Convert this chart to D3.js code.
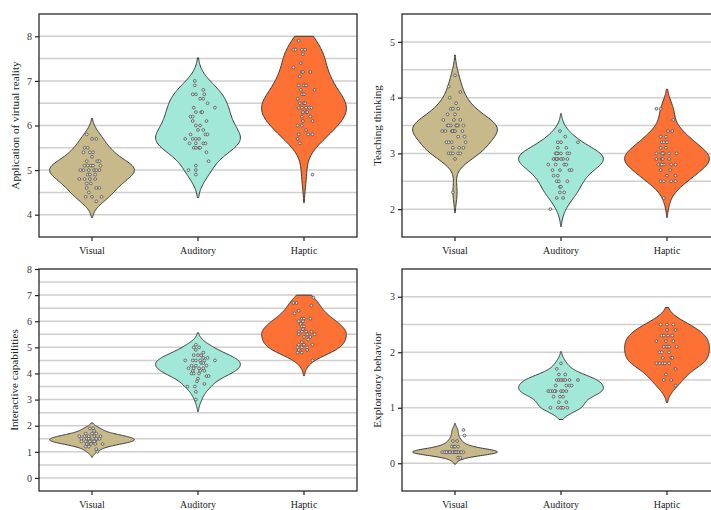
<!DOCTYPE html>
<html><head><meta charset="utf-8">
<script src="https://cdn.jsdelivr.net/npm/d3@7"></script>
<style>body{margin:0;background:#fff;overflow:hidden}svg{display:block}</style>
</head><body>
<script>
// ---------- DATA ----------
const categories = ["Visual", "Auditory", "Haptic"];
const yLabels = ["Application of virtual reality", "Teaching thinking", "Interactive capabilities", "Exploratory behavior"];
const yDomains = [[3.5, 8.5], [1.5, 5.5], [-0.5, 8], [-0.5, 3.5]];
const yTicks = [[4, 5, 6, 7, 8], [2, 3, 4, 5], [0, 1, 2, 3, 4, 5, 6, 7, 8], [0, 1, 2, 3]];
const violinCap = [8, null, 7, null];
const colors = ["#c8b98a", "#a2e8d8", "#fd7135"];

// points: [value, jitter (% of category width)]
const visual1 = [[5.8,-5],[5.7,0],[5.7,4],[5.5,-7],[5.5,-4],[5.4,-8],[5.4,-2],[5.4,1],[5.3,0],[5.2,-5],[5.2,5],[5.2,7],
 [5.1,-7],[5.1,-4],[5.1,-1],[5.1,1],[5.1,8],[5.0,-11],[5.0,-8],[5.0,-3],[5.0,2],[5.0,4],[5.0,7],[4.9,-4],[4.9,-2],[4.9,3],
 [4.8,-12],[4.8,-7],[4.8,-2],[4.8,3],[4.7,-5],[4.7,-1],[4.6,-5],[4.6,4],[4.6,7],[4.5,-3],[4.4,-6],[4.4,0],[4.4,9],[4.3,4]];
const auditory1 = [[7.0,-3],[6.9,-3],[6.8,5],[6.7,-5],[6.7,-2],[6.7,6],[6.6,2],[6.6,5],[6.5,9],[6.4,-4],[6.4,16],
 [6.3,-2],[6.3,3],[6.3,4],[6.2,-7],[6.2,-5],[6.1,-5],[6.1,8],[6.0,-2],[6.0,2],[5.9,0],[5.9,5],[5.8,-7],[5.8,7],[5.8,9],
 [5.7,-12],[5.7,-5],[5.7,-2],[5.7,1],[5.6,-8],[5.6,-2],[5.6,5],[5.6,7],[5.5,-4],[5.5,-2],[5.5,1],[5.5,2],[5.4,8],[5.2,10],
 [5.1,-2],[5.0,-9],[5.0,-2],[4.9,-2]];
const haptic1 = [[7.9,-5],[7.7,-10],[7.7,-8],[7.7,-2],[7.7,1],[7.6,-1],[7.4,-3],[7.3,-10],[7.2,-2],[7.2,-1],[7.2,6],[7.1,-4],
 [6.9,-5],[6.9,0],[6.9,2],[6.8,-3],[6.8,10],[6.7,-2],[6.7,0],[6.6,-6],[6.5,-4],[6.5,0],[6.5,1],[6.4,-5],[6.4,-2],[6.4,2],
 [6.4,5],[6.4,7],[6.3,-1],[6.3,2],[6.3,3],[6.2,-2],[6.2,6],[6.1,-1],[6.1,8],[6.0,-6],[6.0,-2],[5.9,2],[5.8,-5],[5.8,4],
 [5.8,8],[5.7,-6],[5.6,-4],[4.9,8]];
const visual2 = [[4.4,0],[4.2,-6],[4.1,5],[4.0,-5],[3.9,1],[3.8,-4],[3.8,-2],[3.8,3],[3.7,-7],[3.7,0],[3.6,-11],[3.6,-1],[3.6,5],
 [3.5,-7],[3.5,-4],[3.5,1],[3.5,3],[3.5,8],[3.4,-12],[3.4,-9],[3.4,-3],[3.4,-1],[3.4,7],[3.3,3],[3.3,9],[3.2,-8],[3.2,-6],
 [3.2,-3],[3.2,10],[3.1,-2],[3.1,4],[3.1,8],[3.0,-6],[3.0,-4],[3.0,-2],[3.0,3],[3.0,5],[2.9,0],[2.3,-2],
 [3.5,-6],[3.4,-2],[3.4,0],[3.5,2]];
const auditory2 = [[3.4,-1],[3.3,4],[3.2,-3],[3.2,0],[3.2,16],[3.1,-3],[3.1,5],[3.0,-5],[3.0,-3],[3.0,0],[3.0,6],[3.0,8],
 [2.9,-7],[2.9,-5],[2.9,-3],[2.9,2],[2.9,6],[2.8,-12],[2.8,-5],[2.8,3],[2.8,5],[2.7,-8],[2.7,-1],[2.7,8],[2.7,10],[2.6,-7],
 [2.6,-3],[2.5,-4],[2.5,-2],[2.5,6],[2.4,-1],[2.4,0],[2.3,-1],[2.3,3],[2.2,-4],[2.2,2],[2.0,-10],
 [2.9,-4],[2.9,0],[3.0,-4]];
const haptic2 = [[3.8,-10],[3.8,-6],[3.6,6],[3.4,1],[3.4,5],[3.3,-6],[3.3,-1],[3.2,-5],[3.2,-3],[3.2,0],[3.1,-6],[3.1,-1],
 [3.0,-10],[3.0,-5],[3.0,-3],[3.0,2],[3.0,9],[2.9,-10],[2.9,-5],[2.9,2],[2.8,-8],[2.8,-6],[2.8,-3],[2.8,4],[2.8,8],[2.7,-6],
 [2.7,3],[2.6,0],[2.6,8],[2.5,-6],[2.5,-3],[2.5,4],[2.5,8],[2.2,-3],
 [3.0,-4],[2.9,-4],[2.8,-5]];
const visual3 = [[1.9,-2],[1.9,1],[1.8,2],[1.7,-6],[1.7,0],[1.7,4],[1.6,-12],[1.6,-7],[1.6,-3],[1.6,2],[1.6,8],[1.5,-10],
 [1.5,-5],[1.5,-2],[1.5,5],[1.5,7],[1.4,-10],[1.4,-6],[1.4,-3],[1.4,1],[1.4,3],[1.3,-5],[1.3,-1],[1.3,3],[1.3,10],[1.2,-6],
 [1.2,-3],[1.1,4],[1.0,5],[1.5,-3],[1.4,-2],[1.5,4],[1.4,2]];
const auditory3 = [[5.1,-2],[5.0,-4],[5.0,1],[4.9,-2],[4.8,5],[4.7,-4],[4.7,0],[4.7,3],[4.6,5],[4.6,9],[4.5,-12],[4.5,-5],
 [4.5,-2],[4.5,2],[4.5,6],[4.5,16],[4.4,3],[4.4,5],[4.3,-6],[4.3,-2],[4.3,8],[4.2,-9],[4.2,-4],[4.2,1],[4.2,5],[4.1,-5],
 [4.1,2],[4.1,6],[4.0,-6],[4.0,-4],[4.0,1],[3.9,8],[3.9,10],[3.8,0],[3.7,-1],[3.6,6],[3.5,-10],[3.5,-3],[3.3,-2],[3.0,-2]];
const haptic3 = [[6.9,9],[6.7,-10],[6.7,-7],[6.6,7],[6.4,-5],[6.3,-9],[6.1,-2],[6.1,0],[6.1,6],[6.0,-5],[6.0,-1],[5.9,-3],
 [5.8,-2],[5.8,0],[5.7,-1],[5.6,-5],[5.6,-2],[5.6,2],[5.6,7],[5.5,-5],[5.5,3],[5.5,10],[5.4,0],[5.4,6],[5.3,4],[5.2,-2],
 [5.1,-5],[5.1,0],[5.1,8],[5.0,-6],[5.0,-2],[5.0,3],[4.9,-5],[4.9,3],[4.8,-6],[4.8,-2],[4.5,8]];
const visual4 = [[0.6,8],[0.5,9],[0.4,-2],[0.4,2],[0.3,-3],[0.3,-1],[0.3,3],[0.3,0],[0.2,-12],[0.2,-9],[0.2,-6],[0.2,-4],[0.2,-1],
 [0.2,2],[0.2,5],[0.2,8],[0.2,-10],[0.2,-7],[0.2,-5],[0.2,-2],[0.2,0],[0.2,3],[0.2,6],[0.2,-8],[0.2,1],[0.1,3],[0.1,5]];
const auditory4 = [[1.8,0],[1.7,-4],[1.6,-2],[1.6,4],[1.5,-4],[1.5,-2],[1.5,2],[1.5,4],[1.5,8],[1.5,16],[1.4,-5],[1.4,5],
 [1.4,8],[1.4,10],[1.3,-12],[1.3,-8],[1.3,-5],[1.3,0],[1.3,2],[1.3,5],[1.2,-7],[1.2,-1],[1.2,2],[1.1,-2],[1.1,5],
 [1.0,-10],[1.0,-3],[1.0,0],[1.0,2],[1.0,6],[1.3,-10],[1.3,-6],[1.5,0]];
const haptic4 = [[2.5,-6],[2.5,0],[2.5,6],[2.4,0],[2.4,8],[2.3,-5],[2.3,-3],[2.3,1],[2.3,5],[2.2,-10],[2.2,-1],[2.2,6],
 [2.1,-3],[2.1,0],[2.1,2],[2.1,9],[2.0,-7],[2.0,-5],[2.0,2],[1.9,-4],[1.9,4],[1.9,5],[1.8,-10],[1.8,-7],[1.8,-4],[1.8,-2],
 [1.8,2],[1.7,8],[1.6,-1],[1.5,-3],[1.5,4],[1.4,8]];
const panelData = [[visual1, auditory1, haptic1], [visual2, auditory2, haptic2], [visual3, auditory3, haptic3], [visual4, auditory4, haptic4]];

// ---------- LAYOUT ----------
const W = 711, H = 510;
const boxes = [
  {l: 39, r: 357, t: 14, b: 237, lx: 15},
  {l: 402, r: 720, t: 14, b: 237, lx: 377},
  {l: 39, r: 357, t: 269, b: 491, lx: 14},
  {l: 402, r: 720, t: 269, b: 491, lx: 377}
];
const font = "'Liberation Serif','Times New Roman',serif";

const svg = d3.select("body").append("svg").attr("width", W).attr("height", H);

function kde(vals, cap) {
  const n = vals.length;
  const bw = d3.deviation(vals) * Math.pow(n, -0.2);
  const lo = d3.min(vals) - 2 * bw;
  let hi = d3.max(vals) + 2 * bw;
  if (cap != null) hi = Math.min(hi, cap);
  const grid = d3.range(121).map(i => lo + (hi - lo) * i / 120);
  const dens = grid.map(g => d3.sum(vals, v => Math.exp(-0.5 * ((g - v) / bw) ** 2)));
  const m = d3.max(dens);
  return grid.map((g, i) => ({v: g, w: dens[i] / m}));
}

boxes.forEach((bx, p) => {
  const g = svg.append("g");
  const x = d3.scaleBand().domain(categories).range([bx.l, bx.r]).padding(0);
  const y = d3.scaleLinear().domain(yDomains[p]).range([bx.b, bx.t]);
  const [d0, d1] = yDomains[p];

  const gridVals = d3.range(Math.ceil(d0 * 2) / 2, d1 + 1e-9, 0.5).filter(v => v > d0 + 1e-9 && v < d1 - 1e-9);
  g.append("g").selectAll("line").data(gridVals).join("line")
    .attr("x1", bx.l).attr("x2", bx.r)
    .attr("y1", d => y(d)).attr("y2", d => y(d))
    .attr("stroke", "#cfcfcf").attr("stroke-width", 1.5);

  panelData[p].forEach((pts, ci) => {
    const cat = categories[ci];
    const cx = x(cat) + x.bandwidth() / 2;
    const half = x.bandwidth() * 0.4;
    const prof = kde(pts.map(d => d[0]), violinCap[p]);
    const area = d3.area()
      .y(d => y(d.v))
      .x0(d => cx - d.w * half)
      .x1(d => cx + d.w * half)
      .curve(d3.curveLinear);
    g.append("path").datum(prof).attr("d", area)
      .attr("fill", colors[ci]).attr("stroke", "#3a3a3a").attr("stroke-width", 1);
    g.append("g").selectAll("circle").data(pts).join("circle")
      .attr("cx", d => cx + d[1] / 100 * x.bandwidth())
      .attr("cy", d => y(d[0]))
      .attr("r", 1.4)
      .attr("fill", "#dedede").attr("stroke", "#444").attr("stroke-width", 0.7);
  });

  g.append("rect").attr("x", bx.l).attr("y", bx.t).attr("width", bx.r - bx.l).attr("height", bx.b - bx.t)
    .attr("fill", "none").attr("stroke", "#2a2a2a").attr("stroke-width", 1.3);

  const ya = g.append("g").attr("transform", `translate(${bx.l},0)`)
    .call(d3.axisLeft(y).tickValues(yTicks[p]).tickSize(4).tickPadding(3).tickFormat(d3.format("d")));
  ya.select(".domain").remove();
  ya.selectAll("line").attr("stroke", "#222").attr("stroke-width", 1.2);
  ya.selectAll("text").attr("font-family", font).attr("font-size", "10px").attr("fill", "#333");

  const xa = g.append("g").attr("transform", `translate(0,${bx.b})`)
    .call(d3.axisBottom(x).tickSize(4).tickPadding(6));
  xa.select(".domain").remove();
  xa.selectAll("line").attr("stroke", "#222").attr("stroke-width", 1.2);
  xa.selectAll("text").attr("font-family", font).attr("font-size", "10px").attr("fill", "#222");

  g.append("text")
    .attr("transform", `translate(${bx.lx},${(bx.t + bx.b) / 2}) rotate(-90)`)
    .attr("text-anchor", "middle").attr("dominant-baseline", "central")
    .attr("font-family", font).attr("font-size", "11.2px").attr("fill", "#222")
    .text(yLabels[p]);
});
</script>
</body></html>
